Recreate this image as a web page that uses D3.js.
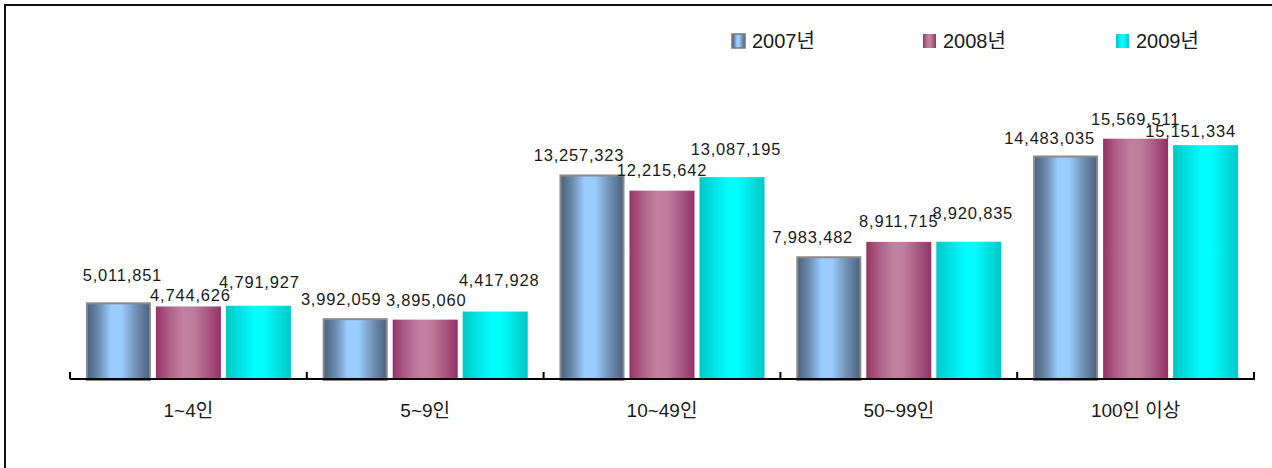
<!DOCTYPE html>
<html>
<head>
<meta charset="utf-8">
<script src="https://cdn.jsdelivr.net/npm/d3@7"></script>
<style>
  html, body { margin: 0; padding: 0; background: #fff; }
  svg { display: block; }
  text { font-family: "Liberation Sans", Arial, "Noto Sans CJK KR", sans-serif; fill: #1a1a1a; }
</style>
</head>
<body>
<svg id="chart" width="1272" height="468"></svg>
<script>
// 사업체 규모별 값 (2007–2009)
const categories = ["1~4인", "5~9인", "10~49인", "50~99인", "100인 이상"];
const seriesNames = ["2007년", "2008년", "2009년"];
const values2007 = [5011851, 3992059, 13257323, 7983482, 14483035];
const values2008 = [4744626, 3895060, 12215642, 8911715, 15569511];
const values2009 = [4791927, 4417928, 13087195, 8920835, 15151334];

// hand-placed label nudges [dx, dy] per series, per category
const labelNudge2007 = [[4, -7], [-14, 1], [-13, 1], [-16, 1], [-16, 3]];
const labelNudge2008 = [[2, 9], [1, 0], [0, -1], [0, -1], [0, 0]];
const labelNudge2009 = [[1, -4], [4, -11], [4, -8], [4, -9], [-15, 6]];

const seriesValues = [values2007, values2008, values2009];
const seriesNudges = [labelNudge2007, labelNudge2008, labelNudge2009];

const svg = d3.select("#chart");
const fmt = d3.format(",");

// gradient fills for the cylinder-like bars
const gradSpecs = [
  { id: "g2007", stops: [["0%", "#4a6282"], ["18%", "#6a88aa"], ["38%", "#99ccff"], ["55%", "#99ccff"], ["80%", "#6e8cae"], ["100%", "#4a6282"]] },
  { id: "g2008", stops: [["0%", "#963264"], ["20%", "#ad6088"], ["42%", "#c2809f"], ["58%", "#c07c9c"], ["82%", "#a65480"], ["100%", "#963264"]] },
  { id: "g2009", stops: [["0%", "#00c8c8"], ["22%", "#00e2e2"], ["45%", "#00ffff"], ["58%", "#00ffff"], ["82%", "#00dede"], ["100%", "#00c8c8"]] }
];
const defs = svg.append("defs");
gradSpecs.forEach(g => {
  const lg = defs.append("linearGradient").attr("id", g.id)
    .attr("x1", "0%").attr("x2", "100%").attr("y1", "0%").attr("y2", "0%");
  g.stops.forEach(s => lg.append("stop").attr("offset", s[0]).attr("stop-color", s[1]));
});
const strokeColors = ["#8a8a8a", "none", "none"];

// outer frame (top and left edges)
svg.append("path")
  .attr("d", "M5,468 V5 H1272")
  .attr("fill", "none").attr("stroke", "#111").attr("stroke-width", 2);

// scales
const x0 = d3.scaleBand().domain(categories).range([70, 1254]).paddingInner(0).paddingOuter(0);
const x1 = d3.scaleBand().domain(seriesNames).range([0, x0.bandwidth()])
  .paddingInner(0.071).paddingOuter(0.227);
const y = d3.scaleLinear().domain([0, 20000000]).range([380, 70]);

// bars
seriesNames.forEach((s, si) => {
  const g = svg.append("g");
  g.selectAll("rect")
    .data(categories.map((c, ci) => ({ c, v: seriesValues[si][ci] })))
    .join("rect")
    .attr("x", d => x0(d.c) + x1(s) + (si === 0 ? 1 : 0))
    .attr("y", d => y(d.v) + (si === 0 ? 1 : 0))
    .attr("width", x1.bandwidth() - (si === 0 ? 2 : 0))
    .attr("height", d => y(0) - y(d.v) - (si === 0 ? 1 : 0))
    .attr("fill", `url(#${gradSpecs[si].id})`)
    .attr("stroke", strokeColors[si])
    .attr("stroke-width", si === 0 ? 2 : 0);
});

// value labels
seriesNames.forEach((s, si) => {
  svg.append("g").selectAll("text")
    .data(categories.map((c, ci) => ({ c, v: seriesValues[si][ci], n: seriesNudges[si][ci] })))
    .join("text")
    .attr("x", d => x0(d.c) + x1(s) + x1.bandwidth() / 2 + d.n[0])
    .attr("y", d => y(d.v) - 20 + d.n[1])
    .attr("dy", "0.36em")
    .attr("text-anchor", "middle")
    .style("font-size", "16.5px")
    .style("letter-spacing", "0.8px")
    .text(d => fmt(d.v));
});

// category axis
const axG = svg.append("g").attr("transform", "translate(0,379)");
axG.append("line").attr("x1", 70).attr("x2", 1255).attr("y1", 0).attr("y2", 0)
  .attr("stroke", "#000").attr("stroke-width", 2);
const boundaries = categories.map(c => x0(c)).concat([x0.range()[1]]);
axG.selectAll("line.tick").data(boundaries).join("line")
  .attr("class", "tick")
  .attr("x1", d => d).attr("x2", d => d).attr("y1", -7).attr("y2", 0)
  .attr("stroke", "#000").attr("stroke-width", 2);
axG.selectAll("text.cat").data(categories).join("text")
  .attr("class", "cat")
  .attr("x", d => x0(d) + x0.bandwidth() / 2)
  .attr("y", 31)
  .attr("dy", "0.36em")
  .attr("text-anchor", "middle")
  .style("font-size", "19px")
  .text(d => d);

// legend
const legendX = [732, 923, 1116];
const lg = svg.append("g");
seriesNames.forEach((s, si) => {
  const item = lg.append("g").attr("transform", `translate(${legendX[si]},34)`);
  item.append("rect").attr("x", 0).attr("y", 0).attr("width", 13).attr("height", 14)
    .attr("fill", `url(#${gradSpecs[si].id})`)
    .attr("stroke", si === 0 ? "#777" : "none").attr("stroke-width", 1.5);
  item.append("text").attr("x", 20).attr("y", 7).attr("dy", "0.36em")
    .style("font-size", "20px")
    .text(s);
});
</script>
</body>
</html>
